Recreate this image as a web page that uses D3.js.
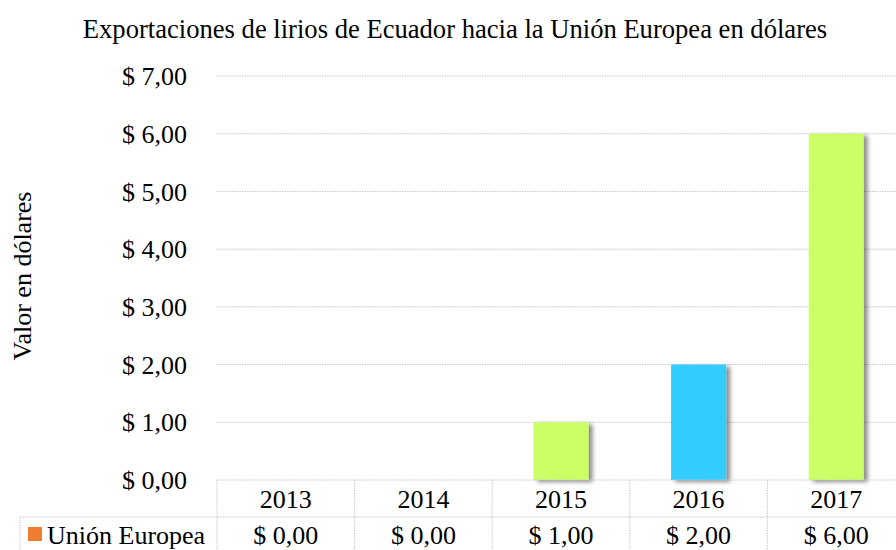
<!DOCTYPE html>
<html>
<head>
<meta charset="utf-8">
<script src="https://cdn.jsdelivr.net/npm/d3@7"></script>
<style>
  body { margin: 0; background: #fff; }
  svg { font-family: "Liberation Serif", "Times New Roman", serif; }
</style>
</head>
<body>
<svg id="chart" width="896" height="550"></svg>
<script>
// data
const years = ["2013", "2014", "2015", "2016", "2017"];
const values = [0, 0, 1, 2, 6];
const yTicks = [0, 1, 2, 3, 4, 5, 6, 7];
const seriesName = "Unión Europea";

const barColors = ["#ccff66", "#ccff66", "#ccff66", "#33ccff", "#ccff66"];

const money = d => "$ " + d.toFixed(2).replace(".", ",");

// plot box
const plotLeft = 217, plotRight = 905, plotTop = 76, plotBottom = 480;
const rowH = 37;
const fs = "26px";

const svg = d3.select("#chart");

// shadow for bars
const defs = svg.append("defs");
const f = defs.append("filter").attr("id", "shadow")
    .attr("x", "-20%").attr("y", "-20%").attr("width", "150%").attr("height", "150%");
f.append("feDropShadow")
    .attr("dx", 4).attr("dy", 2)
    .attr("stdDeviation", 2)
    .attr("flood-color", "#000").attr("flood-opacity", 0.45);

// title
svg.append("text")
    .attr("x", 455).attr("y", 38)
    .attr("text-anchor", "middle")
    .style("font-size", "26.6px")
    .text("Exportaciones de lirios de Ecuador hacia la Unión Europea en dólares");

// scales
const x = d3.scaleBand().domain(years).range([plotLeft, plotRight])
    .paddingInner(0.6).paddingOuter(0.3);
const y = d3.scaleLinear().domain([0, 7]).range([plotBottom, plotTop]);

// gridlines
svg.append("g").selectAll("line")
    .data(yTicks.filter(d => d > 0))
    .join("line")
    .attr("x1", plotLeft).attr("x2", plotRight)
    .attr("y1", d => y(d)).attr("y2", d => y(d))
    .attr("stroke", "#c8c8c8")
    .attr("stroke-dasharray", "1.5,1");

// y axis labels
const yAxis = svg.append("g")
    .attr("transform", "translate(" + (plotLeft - 30) + ",0)")
    .call(d3.axisLeft(y).tickValues(yTicks).tickFormat(money).tickSize(0).tickPadding(0));
yAxis.select(".domain").remove();
yAxis.selectAll("text")
    .style("font-family", "Liberation Serif, serif")
    .style("font-size", fs)
    .attr("fill", "#000")
    .attr("dy", "0.33em");

// y axis title
svg.append("text")
    .attr("transform", "translate(31," + 276 + ") rotate(-90)")
    .attr("text-anchor", "middle")
    .style("font-size", fs)
    .text("Valor en dólares");

// bars
svg.append("g").selectAll("rect")
    .data(values.map((v, i) => ({ year: years[i], v: v, c: barColors[i] })).filter(d => d.v > 0))
    .join("rect")
    .attr("x", d => x(d.year))
    .attr("width", x.bandwidth())
    .attr("y", d => y(d.v))
    .attr("height", d => y(0) - y(d.v))
    .attr("fill", d => d.c)
    .attr("filter", "url(#shadow)");

// data table
const step = x.step();
const colEdges = years.map(d => x(d) + x.bandwidth() / 2 - step / 2);
colEdges.push(colEdges[colEdges.length - 1] + step);
const tbl = svg.append("g")
    .attr("stroke", "#c8c8c8")
    .attr("stroke-dasharray", "1.5,1");

tbl.append("line")
    .attr("x1", colEdges[0]).attr("x2", plotRight)
    .attr("y1", plotBottom).attr("y2", plotBottom);
tbl.append("line")
    .attr("x1", 20).attr("x2", plotRight)
    .attr("y1", plotBottom + rowH).attr("y2", plotBottom + rowH);
tbl.selectAll(".col")
    .data(colEdges)
    .join("line")
    .attr("x1", d => d).attr("x2", d => d)
    .attr("y1", plotBottom).attr("y2", 560);
tbl.append("line")
    .attr("x1", 20).attr("x2", 20)
    .attr("y1", plotBottom + rowH).attr("y2", 560);

svg.append("g").selectAll("text")
    .data(years)
    .join("text")
    .attr("x", d => x(d) + x.bandwidth() / 2)
    .attr("y", plotBottom + 28)
    .attr("text-anchor", "middle")
    .style("font-size", fs)
    .text(d => d);

svg.append("g").selectAll("text")
    .data(values.map((v, i) => ({ year: years[i], v: v })))
    .join("text")
    .attr("x", d => x(d.year) + x.bandwidth() / 2)
    .attr("y", plotBottom + rowH + 27)
    .attr("text-anchor", "middle")
    .style("font-size", fs)
    .text(d => money(d.v));

// legend key
svg.append("rect")
    .attr("x", 28).attr("y", plotBottom + rowH + 10)
    .attr("width", 14).attr("height", 14)
    .attr("fill", "#ed7d31");
svg.append("text")
    .attr("x", 47).attr("y", plotBottom + rowH + 27)
    .style("font-size", fs)
    .text(seriesName);
</script>
</body>
</html>
